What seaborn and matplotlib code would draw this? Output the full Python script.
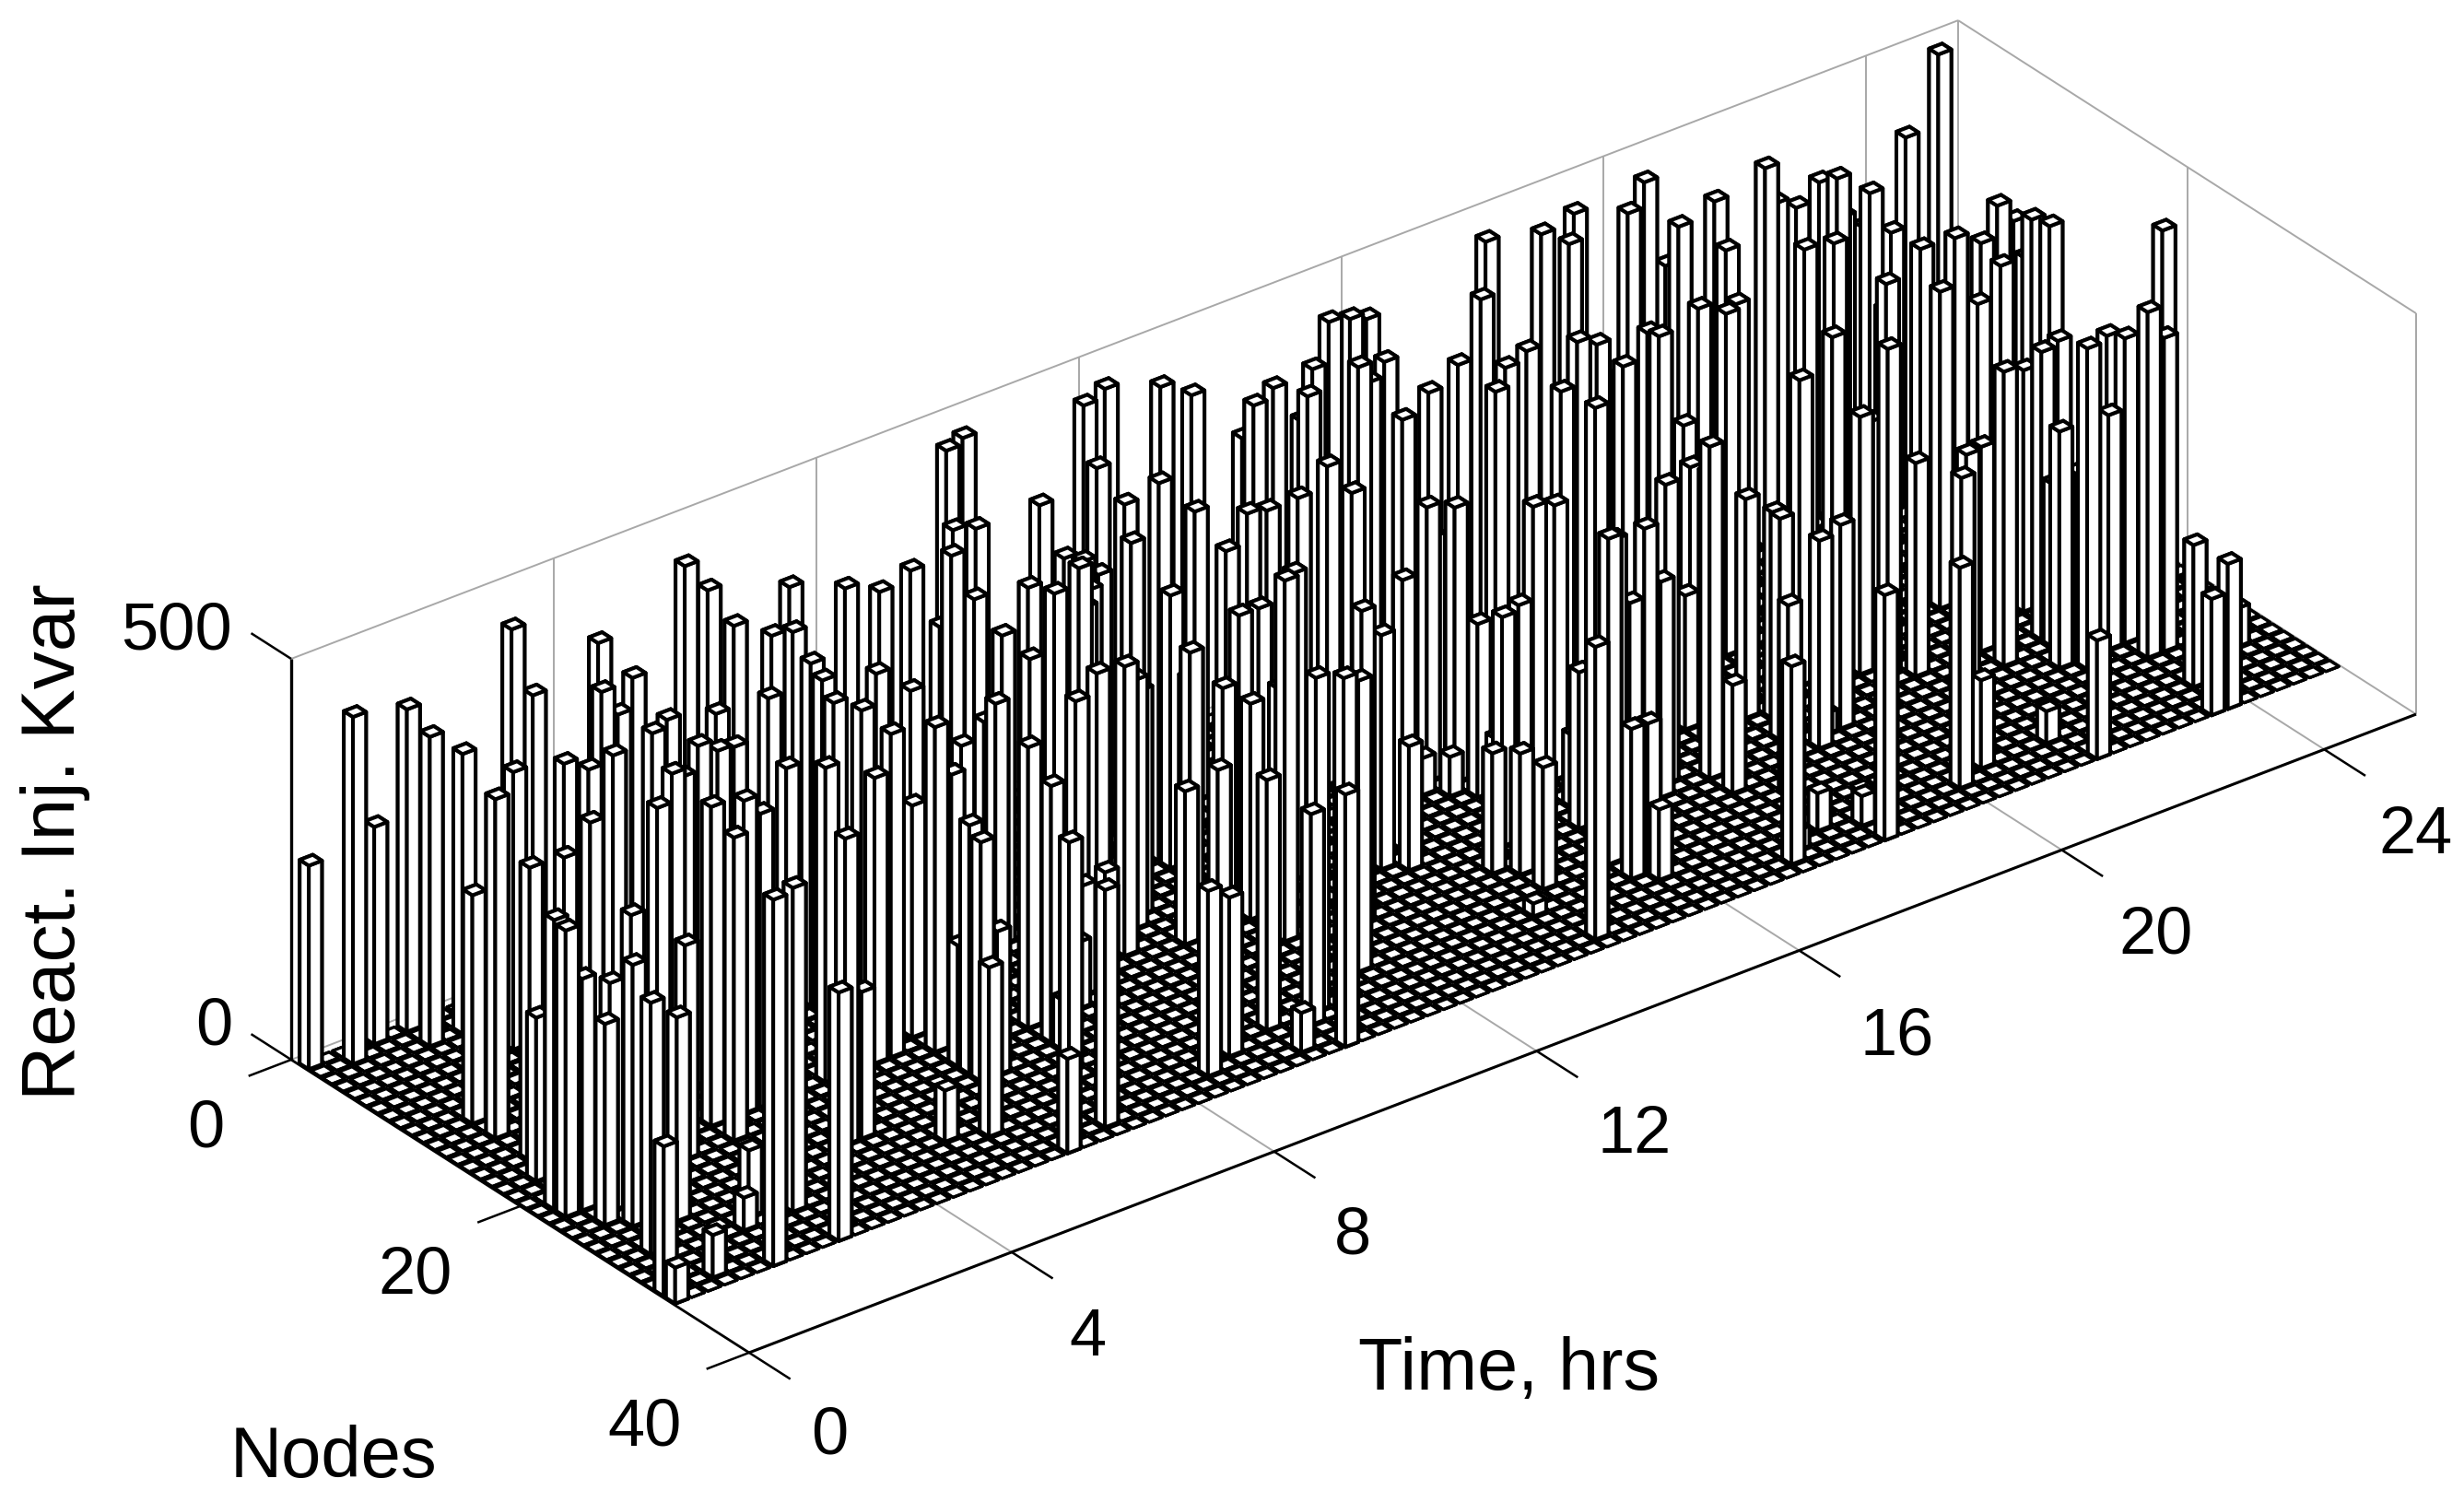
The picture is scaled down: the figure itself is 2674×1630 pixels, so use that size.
import numpy as np
import matplotlib
matplotlib.use('Agg')
import matplotlib.pyplot as plt
import seaborn as sns
from mpl_toolkits.mplot3d import proj3d

bar_slots = [
 0,0,0,1,1,2,2,2,2,2,3,
 3,3,3,3,3,3,4,4,5,5,6,
 6,6,6,7,8,8,8,8,9,9,10,
 10,10,11,11,12,12,13,13,13,13,14,
 14,14,14,15,16,17,17,17,17,18,18,
 19,19,19,20,20,22,22,22,23,23,23,
 23,23,23,24,24,24,25,25,25,25,25,
 26,26,26,27,27,27,28,28,28,28,29,
 30,30,30,30,30,33,33,33,33,34,34,
 34,34,34,34,35,35,36,36,37,37,37,
 38,38,38,38,39,39,39,39,40,40,40,
 40,41,41,41,41,41,42,42,42,42,43,
 44,44,44,44,45,45,45,45,45,45,46,
 46,46,47,48,49,49,49,49,50,50,50,
 53,53,54,54,54,55,55,55,56,56,57,
 57,58,58,59,59,59,59,60,60,60,60,
 60,60,60,61,61,61,61,62,62,62,62,
 63,63,63,63,63,63,63,64,64,64,64,
 64,65,65,67,67,68,69,69,69,70,70,
 71,71,71,71,71,71,72,72,72,72,73,
 73,73,74,74,74,74,74,75,75,76,76,
 76,76,77,77,77,77,78,78,78,79,79,
 80,80,80,81,81,81,82,82,83,83,84,
 84,85,85,85,85,86,86,86,86,86,87,
 87,87,88,88,89,89,89,90,90,90,91,
 91,91,91,92,92,92,92,92,93,93,93,
 93,93,93,93,94,94,94,95,95,95,95,
 95,96,96,96,96,97,97,97,98,98,98,
 99,99]
bar_nodes = [
 1,32,33,21,22,2,18,22,24,28,11,
 13,16,19,23,25,32,1,24,22,26,1,
 3,17,33,29,3,14,20,28,6,21,9,
 29,33,3,17,19,21,2,8,9,15,8,
 11,15,19,19,25,2,5,8,25,11,17,
 11,14,19,8,28,10,19,29,1,3,12,
 13,14,19,9,15,33,18,20,22,23,24,
 1,20,24,12,15,32,3,18,20,21,26,
 5,8,21,23,24,9,10,12,21,5,10,
 13,20,22,31,14,18,29,30,11,17,28,
 3,5,14,18,1,13,29,32,1,9,12,
 16,10,15,19,30,33,7,10,18,29,30,
 2,7,10,15,8,11,12,18,19,22,3,
 20,27,14,2,13,14,17,23,4,7,16,
 9,19,1,15,20,4,5,18,10,28,23,
 32,24,26,1,4,14,21,2,3,7,13,
 15,19,21,3,12,14,16,5,8,26,28,
 2,5,18,22,25,28,29,2,10,20,21,
 25,6,17,9,22,22,7,21,32,19,31,
 2,6,9,12,22,24,1,9,13,30,17,
 19,26,3,10,16,31,33,4,14,3,5,
 18,21,8,9,19,23,11,18,22,12,22,
 2,17,31,2,5,10,17,30,1,18,17,
 19,15,16,20,24,1,2,16,23,30,4,
 10,33,6,13,2,20,22,6,15,19,1,
 3,5,24,6,21,22,24,25,4,9,12,
 14,16,18,21,5,24,33,23,24,26,30,
 33,10,16,21,26,2,10,13,10,11,23,
 2,28]
bar_values = [
 254,187,45,361,357,433,204,289,251,314,285,
 423,365,405,285,326,53,271,225,345,254,402,
 386,407,457,41,349,430,437,83,346,267,376,
 404,310,481,429,398,378,374,433,363,391,397,
 401,422,390,366,382,408,392,367,183,348,381,
 345,433,392,351,64,451,356,211,448,436,427,
 415,396,403,431,388,118,289,405,151,310,298,
 350,338,179,383,389,296,401,340,388,420,285,
 402,425,350,320,62,367,465,429,83,393,386,
 385,137,172,231,357,341,348,198,403,351,433,
 394,414,447,361,467,381,312,49,475,354,386,
 310,395,280,191,263,315,364,371,347,416,417,
 369,461,395,270,417,471,340,370,269,450,487,
 289,363,398,483,420,311,382,390,488,360,459,
 356,292,419,425,155,385,435,336,397,16,150,
 365,151,152,389,406,46,286,349,423,462,342,
 49,108,293,474,288,343,216,409,390,406,187,
 453,427,365,195,388,186,88,445,461,90,95,
 301,382,342,395,343,269,391,373,247,120,25,
 415,387,364,371,414,135,470,418,424,47,167,
 336,237,482,368,310,37,306,471,336,492,347,
 273,276,381,386,257,259,431,187,26,426,254,
 452,381,275,483,455,404,419,110,354,321,68,
 407,145,281,266,284,411,359,445,296,40,472,
 433,148,381,368,394,255,367,454,395,126,364,
 414,389,295,420,359,203,235,400,351,370,411,
 347,413,301,365,346,292,145,110,380,431,177,
 181,363,439,348,391,414,402,412,375,338,482,
 502,48]
time_ticks = [0, 4, 8, 12, 16, 20, 24]
node_ticks = [0, 20, 40]
react_ticks = [0, 500]

W, H = 2674, 1630
sns.set_theme(style='white')
plt.rcParams['font.family'] = ['Liberation Sans', 'DejaVu Sans']
fig = plt.figure(figsize=(W/100, H/100), dpi=100)
ax = fig.add_axes([0.1, 0.1, 0.8, 0.8], projection='3d', proj_type='ortho', computed_zorder=False)
ax.view_init(elev=29.67, azim=-127.73)
ax.set_box_aspect((2287, 812, 500.6))

tmax, nmax, zmax = 25.4, 40, 500
nslots = 102
pitch = tmax/nslots
width = 0.8
lw_bar = 2.9
lw_floor = 2.3

qq, nn = np.meshgrid(np.arange(nslots), np.arange(1, 34), indexing='ij')
xf = (qq.ravel()+0.5-width/2)*pitch
yf = nn.ravel()-width/2.0
fl = ax.bar3d(xf, yf, np.zeros_like(xf), width*pitch, width, np.zeros_like(xf),
              color='white', shade=False, edgecolor='black', linewidth=lw_floor)
fl.set_zorder(1)

order = sorted(range(len(bar_slots)), key=lambda i: 7.95*bar_nodes[i]-6.79*bar_slots[i])
for rank, i in enumerate(order):
    c = ax.bar3d((bar_slots[i]+0.5-width/2)*pitch, bar_nodes[i]-width/2, 0,
                 width*pitch, width, bar_values[i],
                 color='white', shade=False, edgecolor='black', linewidth=lw_bar)
    c.set_zorder(2+rank*0.01)

gray = '#a8a8a8'
def line(xs, ys, zs, color=gray, lw=1.4, z=0.5):
    ax.plot(xs, ys, zs, color=color, lw=lw, zorder=z, clip_on=False, solid_capstyle='butt')

line([0, tmax], [0, 0], [zmax, zmax])
line([tmax, tmax], [0, nmax], [zmax, zmax])
line([tmax, tmax], [nmax, nmax], [0, zmax])
line([tmax, tmax], [0, 0], [0, zmax])
line([tmax, tmax], [0, nmax], [0, 0])
line([0, tmax], [0, 0], [0, 0])
for t in time_ticks[1:]:
    line([t, t], [0, 0], [0, zmax])
    line([t, t], [0, nmax], [0, 0])
for n in node_ticks[1:]:
    line([tmax, tmax], [n, n], [0, zmax])
    line([0, tmax], [n, n], [0, 0])

K, big = 'black', 1000
line([0, 0], [0, 0], [0, zmax], K, 2.4, big)
line([0, 0], [0, nmax], [0, 0], K, 2.0, big)
line([0, tmax], [nmax, nmax], [0, 0], K, 2.2, big)
for z_ in react_ticks:
    line([0, 0], [0, -3.5], [z_, z_], K, 1.8, big)
for n in node_ticks:
    line([0, -0.65], [n, n], [0, 0], K, 1.8, big)
for t in time_ticks:
    line([t, t], [nmax, nmax+3.6], [0, 0], K, 1.8, big)

ax.set_xlim(0, tmax, view_margin=0)
ax.set_ylim(nmax, 0, view_margin=0)
ax.set_zlim(0, zmax, view_margin=0)
ax.set_axis_off()
ax.patch.set_alpha(0)

def px(x, y, z):
    X, Y, _ = proj3d.proj_transform(x, y, z, ax.get_proj())
    return ax.transData.transform((X, Y))
ax.apply_aspect()
p0, p1 = px(0, 0, 0), px(tmax, nmax, 0)
t0, t1 = np.array([316, H-1150.]), np.array([2622, H-775.])
pos = ax.get_position()
L, B, S = pos.x0*W, pos.y0*H, pos.width*W
Sn = S*np.linalg.norm(t1-t0)/np.linalg.norm(p1-p0)
fx, fy = (p0[0]-L)/S, (p0[1]-B)/S
Ln, Bn = t0[0]-fx*Sn, t0[1]-fy*Sn
ax.set_position([Ln/W, Bn/H, Sn/W, Sn/H])

labels = [('500', 112, 402, 52), ('0', 136, 654, 52), ('0', 131, 719, 52), ('20', 264, 812, 52), ('40', 410, 909, 52),
          ('0', 528, 914, 52), ('4', 692, 852, 52), ('8', 861, 787, 52), ('12', 1040, 723, 52), ('16', 1207, 660, 52),
          ('20', 1372, 596, 52), ('24', 1537, 532, 52), ('Time, hrs', 960, 872, 57), ('Nodes', 212, 928, 56)]
sc = 2674/1568
for s, x, y, fs in labels:
    fig.text(x*sc/W, 1-y*sc/H, s, ha='center', va='center', fontsize=fs, color='black')
fig.text(35*sc/W, 1-536*sc/H, 'React. Inj. Kvar', rotation=90, ha='center', va='center', fontsize=59, color='black')
fig.savefig('out.png', dpi=100)
